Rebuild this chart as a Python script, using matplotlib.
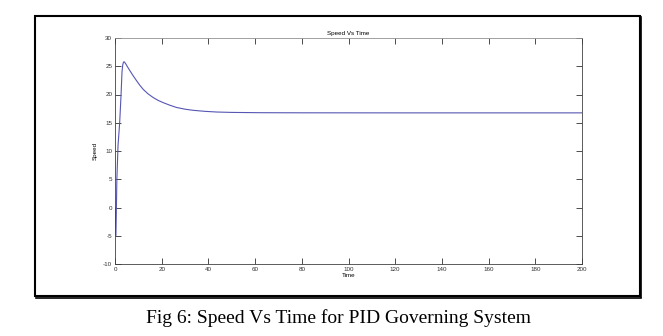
import numpy as np
import matplotlib.pyplot as plt
from matplotlib.patches import Rectangle
from matplotlib.lines import Line2D

# values
time = [0, 0.4, 0.8, 1.3, 2.0, 2.6, 3.0, 3.3, 3.6, 3.9, 4.5, 5.2, 6.4, 7.8, 9.3, 10.7,
        12.1, 14.2, 16.4, 18.5, 20.7, 23.5, 26.4, 30, 33.5, 38.5, 43.5, 50, 62, 80,
        120, 200]
speed = [0, -5, 5, 11, 15, 20, 24, 25.2, 25.7, 25.8, 25.5, 25.0, 24.2, 23.3, 22.4,
         21.6, 20.9, 20.1, 19.45, 18.95, 18.55, 18.1, 17.7, 17.4, 17.2, 17.02, 16.9,
         16.83, 16.78, 16.76, 16.75, 16.75]

xticks = np.arange(0, 201, 20)
yticks = np.arange(-10, 31, 5)

title = "Speed Vs Time"
caption = "Fig 6: Speed Vs Time for PID Governing System"

plt.rcParams.update({
    "font.family": ["Liberation Sans", "DejaVu Sans"],
    "font.size": 4.5,
    "axes.unicode_minus": False,
})

W, H = 663, 336
fig = plt.figure(figsize=(W / 100, H / 100), dpi=100)
ax = fig.add_axes([115 / W, 1 - 264 / H, (582 - 115) / W, (264 - 38) / H])

ax.plot(time, speed, color="#5656b4", linewidth=0.8)

ax.set_xlim(0, 200)
ax.set_ylim(-10, 30)
ax.set_xticks(xticks)
ax.set_yticks(yticks)
ax.tick_params(direction="in", length=4, width=0.6, top=True, right=True,
               labelsize=4.5, pad=2, colors="#303030")
for s in ax.spines.values():
    s.set_linewidth(0.6)
    s.set_color("#404040")
ax.spines["top"].set_color("#909090")

ax.set_title(title, fontsize=4.5, pad=2)
ax.set_xlabel("Time", fontsize=4.5, labelpad=1)
ax.set_ylabel("Speed", fontsize=4.5, labelpad=4)

# outer frame with shadow on right/bottom
fig.patches.append(Rectangle((35 / W, 1 - 296 / H), (640 - 35) / W, (296 - 16) / H,
                             transform=fig.transFigure, fill=False,
                             edgecolor="black", linewidth=1.5))
fig.lines.append(Line2D([641 / W, 641 / W], [1 - 297 / H, 1 - 17 / H],
                        transform=fig.transFigure, color="black", linewidth=1.2))
fig.lines.append(Line2D([36 / W, 641 / W], [1 - 297.5 / H, 1 - 297.5 / H],
                        transform=fig.transFigure, color="black", linewidth=1.2))

fig.text(339 / W, 1 - 318 / H, caption, ha="center", va="center",
         fontsize=14, family=["Liberation Serif", "DejaVu Serif"])

fig.savefig("out.png", dpi=100, facecolor="white")
